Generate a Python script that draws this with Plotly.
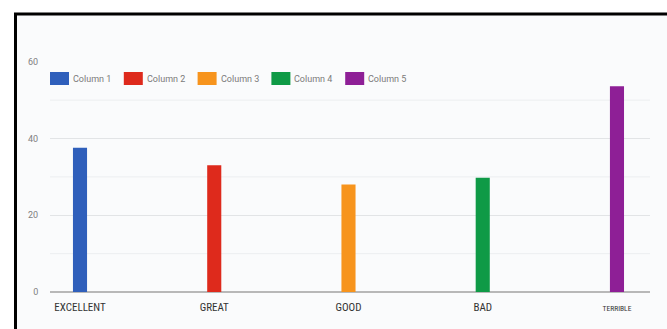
import plotly.graph_objects as go

categories = ["EXCELLENT", "GREAT", "GOOD", "BAD", "TERRIBLE"]
series_names = ["Column 1", "Column 2", "Column 3", "Column 4", "Column 5"]
values = [37.6, 33.0, 28.0, 29.8, 53.6]
colors = ["#2f5fbb", "#de2a1c", "#f7941d", "#0f9a46", "#8e1f96"]
y_ticks = [0, 20, 40, 60]
label_sizes = [11, 11, 11, 11, 7.5]

W, H = 667, 329
ML, MR, MT, MB = 50, 17, 61, 37
PW, PH = W - ML - MR, H - MT - MB

def px(x):
    return (x - ML) / PW

def py(y):
    return (H - MB - y) / PH

fig = go.Figure()
for i, (cat, name, val, col) in enumerate(zip(categories, series_names, values, colors)):
    fig.add_trace(go.Bar(
        x=[i], y=[val], name=name, marker=dict(color=col, line=dict(width=0)),
        width=0.105, showlegend=False,
    ))

shapes = [
    dict(type="rect", xref="paper", yref="paper",
         x0=px(15.5), x1=px(690), y0=py(345), y1=py(14),
         fillcolor="#fafbfc", line=dict(color="#000000", width=3), layer="below"),
]
# minor gridlines
for v in [10, 30, 50]:
    shapes.append(dict(type="line", xref="paper", yref="y", x0=0, x1=1, y0=v, y1=v,
                       line=dict(color="#eceef0", width=1), layer="below"))

annotations = []
leg_x0, leg_step, leg_y = 50, 73.8, 78.5
for k, (name, col) in enumerate(zip(series_names, colors)):
    x0 = leg_x0 + k * leg_step
    shapes.append(dict(type="rect", xref="paper", yref="paper",
                       x0=px(x0), x1=px(x0 + 19), y0=py(leg_y + 6.5), y1=py(leg_y - 6.5),
                       fillcolor=col, line=dict(width=0), layer="above"))
    annotations.append(dict(xref="paper", yref="paper", x=px(x0 + 21), y=py(leg_y),
                            text=name, showarrow=False, xanchor="left", yanchor="middle",
                            font=dict(size=9, color="#7a7a7a", family="Roboto")))

ticktext = [f'<span style="font-size:{s}px">{c}</span>' for c, s in zip(categories, label_sizes)]

fig.update_layout(
    width=W, height=H,
    margin=dict(l=ML, r=MR, t=MT, b=MB, pad=0),
    paper_bgcolor="#ffffff",
    plot_bgcolor="rgba(0,0,0,0)",
    barmode="overlay",
    shapes=shapes,
    annotations=annotations,
    font=dict(family="Roboto", color="#444444"),
    xaxis=dict(
        range=[-0.2235, 4.246], tickmode="array", tickvals=list(range(len(categories))),
        ticktext=ticktext, showgrid=False, zeroline=False, showline=False,
        ticks="outside", ticklen=5, tickcolor="rgba(0,0,0,0)",
        tickfont=dict(size=11, color="#333333", family="Roboto Condensed, Roboto"),
    ),
    yaxis=dict(
        range=[0, 60.2], tickmode="array", tickvals=y_ticks,
        showgrid=True, gridcolor="#e2e4e6", gridwidth=1,
        zeroline=True, zerolinecolor="#b8b8b8", zerolinewidth=2,
        showline=False, ticks="outside", ticklen=9, tickcolor="rgba(0,0,0,0)",
        tickfont=dict(size=9, color="#808080", family="Roboto"),
    ),
)

fig.write_html("out.html")
